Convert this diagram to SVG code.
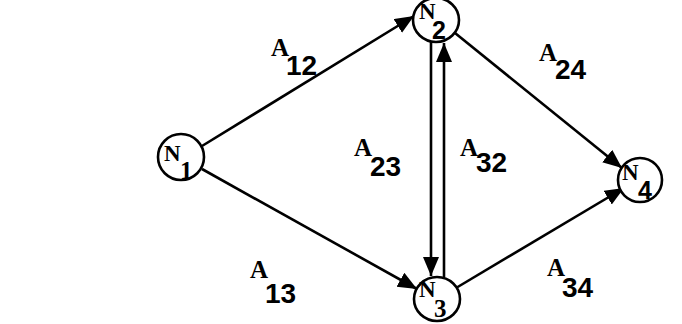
<svg xmlns="http://www.w3.org/2000/svg" width="682" height="324" viewBox="0 0 682 324">
<style>
.node{fill:#fff;stroke:#000;stroke-width:2.6}
.edge{stroke:#000;stroke-width:2.6;fill:none;marker-end:url(#arr)}
.n{font-family:"Liberation Serif","Times New Roman",serif;font-weight:bold;font-size:23px;fill:#000}
.ns{font-family:"Liberation Serif","Times New Roman",serif;font-weight:bold;font-size:25px;fill:#000}
.dn{font-family:"Liberation Sans",Arial,sans-serif;font-weight:bold;font-size:25px;fill:#000}
.a{font-family:"Liberation Serif","Times New Roman",serif;font-weight:bold;font-size:25px;fill:#000}
.d{font-family:"Liberation Sans",Arial,sans-serif;font-weight:bold;font-size:28px;fill:#000}
</style>
<defs>
<marker id="arr" markerUnits="userSpaceOnUse" markerWidth="20" markerHeight="18" refX="19" refY="8" orient="auto">
<path d="M0,0 L19,8 L0,16 z" fill="#000"/>
</marker>
</defs>
<rect width="682" height="324" fill="#fff"/>
<g id="connectors">
<line class="edge" x1="202" y1="146" x2="414" y2="16"/>
<line class="edge" x1="455" y1="33" x2="622" y2="168"/>
<line class="edge" x1="202" y1="169" x2="417" y2="289"/>
<line class="edge" x1="456" y1="288" x2="624" y2="188"/>
<line class="edge" x1="431" y1="42" x2="431" y2="276"/>
<line class="edge" x1="444" y1="277" x2="444" y2="43"/>
</g>
<g id="labels">
<text class="a" x="271" y="56">A</text><text class="d" x="286" y="75">12</text>
<text class="a" x="539" y="61">A</text><text class="d" x="555" y="79">24</text>
<text class="a" x="354" y="156">A</text><text class="d" x="370" y="176">23</text>
<text class="a" x="460" y="156">A</text><text class="d" x="476" y="172">32</text>
<text class="a" x="250" y="278">A</text><text class="d" x="265" y="303">13</text>
<text class="a" x="547" y="276">A</text><text class="d" x="562" y="297">34</text>
</g>
<g id="N1"><ellipse class="node" cx="181" cy="157" rx="23" ry="23"/><text class="n" x="164" y="161">N</text><text class="ns" x="180" y="179">1</text></g>
<g id="N2"><ellipse class="node" cx="436" cy="20" rx="23" ry="22"/><text class="n" x="419" y="19">N</text><text class="dn" x="432" y="39">2</text></g>
<g id="N3"><ellipse class="node" cx="437" cy="299" rx="23" ry="22"/><text class="n" x="419" y="297">N</text><text class="ns" x="434" y="317">3</text></g>
<g id="N4"><ellipse class="node" cx="640" cy="180" rx="22" ry="22"/><text class="n" x="622" y="180">N</text><text class="dn" x="638" y="199">4</text></g>
</svg>
